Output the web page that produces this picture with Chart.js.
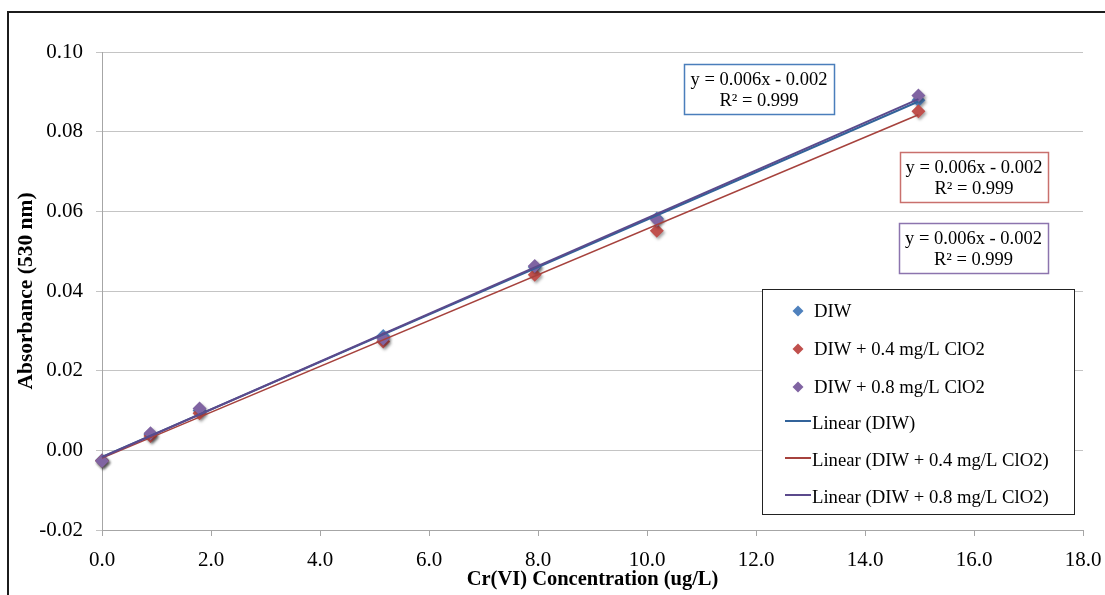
<!DOCTYPE html>
<html>
<head>
<meta charset="utf-8">
<script src="https://cdn.jsdelivr.net/npm/chart.js@4.4.1/dist/chart.umd.min.js"></script>
<style>
  html, body { margin: 0; padding: 0; background: #fff; overflow: hidden; }
  #frame { position: absolute; left: 7px; top: 11px; width: 1200px; height: 700px; border: 2px solid #1c1c1c; }
  #myChart { position: absolute; left: 0; top: 0; }
</style>
</head>
<body>
<div id="frame"></div>
<canvas id="myChart" width="1105" height="595"></canvas>
<script>
// Cr(VI) standards (ug/L) and measured absorbance at 530 nm
const concentration = [0, 0.89, 1.79, 5.16, 7.94, 10.18, 14.98];
const absDIW = [-0.0025, 0.0040, 0.0100, 0.0287, 0.0460, 0.0582, 0.0879];
const absClO2low = [-0.0026, 0.0036, 0.0093, 0.0273, 0.0441, 0.0551, 0.0851];
const absClO2high = [-0.0027, 0.0043, 0.0105, 0.0281, 0.0463, 0.0579, 0.0891];

const seriesNames = ['DIW', 'DIW + 0.4 mg/L ClO2', 'DIW + 0.8 mg/L ClO2'];
const seriesValues = [absDIW, absClO2low, absClO2high];

// trendline labels as reported
const equationLabels = ['y = 0.006x - 0.002', 'y = 0.006x - 0.002', 'y = 0.006x - 0.002'];
const r2Labels = ['R\u00B2 = 0.999', 'R\u00B2 = 0.999', 'R\u00B2 = 0.999'];

const xMin = 0, xMax = 18, xStep = 2;
const yMin = -0.02, yMax = 0.10, yStep = 0.02;

const markerColors = ['#4F81BD', '#C0504D', '#8064A2'];
const lineColors = ['#32639A', '#A6423D', '#5B4A8C'];
const boxColors = ['#4A7EBB', '#C9706D', '#8C74AE'];

const serif = '"Liberation Serif", "Times New Roman", serif';

// least squares line through each series
function linearFit(xs, ys) {
    const n = xs.length;
    const mx = xs.reduce((a, b) => a + b, 0) / n;
    const my = ys.reduce((a, b) => a + b, 0) / n;
    let sxy = 0, sxx = 0;
    for (let i = 0; i < n; i++) {
        sxy += (xs[i] - mx) * (ys[i] - my);
        sxx += (xs[i] - mx) ** 2;
    }
    const slope = sxy / sxx;
    return { slope, intercept: my - slope * mx };
}

const fits = seriesValues.map(ys => linearFit(concentration, ys));

const datasets = [];
seriesValues.forEach((ys, i) => {
    datasets.push({
        label: seriesNames[i],
        data: concentration.map((x, j) => ({ x: x, y: ys[j] })),
        showLine: false,
        pointStyle: 'rectRot',
        pointRadius: 7,
        pointBorderWidth: 0,
        backgroundColor: markerColors[i],
        borderColor: markerColors[i],
        order: 6 - i,
        clip: false
    });
});
fits.forEach((f, i) => {
    const x0 = concentration[0], x1 = concentration[concentration.length - 1];
    datasets.push({
        label: 'Linear (' + seriesNames[i] + ')',
        data: [{ x: x0, y: f.intercept + f.slope * x0 }, { x: x1, y: f.intercept + f.slope * x1 }],
        showLine: true,
        pointRadius: 0,
        borderColor: lineColors[i],
        borderWidth: i === 1 ? 1.6 : 2,
        order: 3 - i,
        clip: false
    });
});

// soft drop shadow under the markers
const markerShadow = {
    id: 'markerShadow',
    beforeDatasetDraw(chart, args) {
        if (args.index > 2) return;
        const ctx = chart.ctx;
        ctx.save();
        ctx.shadowColor = 'rgba(0,0,0,0.35)';
        ctx.shadowBlur = 3;
        ctx.shadowOffsetX = 1.5;
        ctx.shadowOffsetY = 2;
    },
    afterDatasetDraw(chart, args) {
        if (args.index > 2) return;
        chart.ctx.restore();
    }
};

// legend box and trendline equation labels
const overlays = {
    id: 'overlays',
    afterDraw(chart) {
        const ctx = chart.ctx;
        ctx.save();

        const boxes = [
            { x: 684, y: 64, w: 150, h: 50 },
            { x: 900, y: 152, w: 148, h: 50 },
            { x: 899, y: 223, w: 149, h: 50 }
        ];
        ctx.font = '18.5px ' + serif;
        ctx.textAlign = 'center';
        ctx.textBaseline = 'middle';
        boxes.forEach((b, i) => {
            ctx.fillStyle = '#fff';
            ctx.fillRect(b.x, b.y, b.w, b.h);
            ctx.strokeStyle = boxColors[i];
            ctx.lineWidth = 1.5;
            ctx.strokeRect(b.x + 0.5, b.y + 0.5, b.w, b.h);
            ctx.fillStyle = '#000';
            ctx.fillText(equationLabels[i], b.x + b.w / 2, b.y + 16);
            ctx.fillText(r2Labels[i], b.x + b.w / 2, b.y + 37);
        });

        // legend
        const lx = 762, ly = 289, lw = 312, lh = 225;
        ctx.fillStyle = '#fff';
        ctx.fillRect(lx, ly, lw, lh);
        ctx.strokeStyle = '#222';
        ctx.lineWidth = 1;
        ctx.strokeRect(lx + 0.5, ly + 0.5, lw, lh);

        ctx.font = '18.7px ' + serif;
        ctx.textAlign = 'left';
        const rows = [311, 349, 387, 424, 461, 498];
        for (let i = 0; i < 3; i++) {
            const y = rows[i];
            ctx.fillStyle = markerColors[i];
            ctx.beginPath();
            ctx.moveTo(798, y - 5.5);
            ctx.lineTo(803.5, y);
            ctx.lineTo(798, y + 5.5);
            ctx.lineTo(792.5, y);
            ctx.closePath();
            ctx.fill();
            ctx.fillStyle = '#000';
            ctx.fillText(seriesNames[i], 814, y + 1);
        }
        for (let i = 0; i < 3; i++) {
            const y = rows[i + 3];
            ctx.strokeStyle = lineColors[i];
            ctx.lineWidth = 2;
            ctx.beginPath();
            ctx.moveTo(785, y - 3);
            ctx.lineTo(811, y - 3);
            ctx.stroke();
            ctx.fillStyle = '#000';
            ctx.fillText('Linear (' + seriesNames[i] + ')', 812, y);
        }
        ctx.restore();
    }
};

const ctx = document.getElementById('myChart').getContext('2d');
const myChart = new Chart(ctx, {
    type: 'scatter',
    data: { datasets: datasets },
    plugins: [markerShadow, overlays],
    options: {
        responsive: false,
        animation: false,
        layout: { padding: { top: 52, right: 22, left: 0, bottom: 0 } },
        plugins: { legend: { display: false }, tooltip: { enabled: false } },
        scales: {
            x: {
                type: 'linear',
                min: xMin,
                max: xMax,
                ticks: {
                    stepSize: xStep,
                    padding: 12,
                    color: '#000',
                    font: { family: serif, size: 21 },
                    callback: v => v.toFixed(1)
                },
                grid: { drawOnChartArea: false, drawTicks: true, tickLength: 6, color: '#A6A6A6' },
                border: { color: '#A6A6A6' },
                title: {
                    display: true,
                    text: 'Cr(VI) Concentration (ug/L)',
                    color: '#000',
                    font: { family: serif, size: 20.5, weight: 'bold' },
                    padding: { top: 0, bottom: 3 }
                },
                afterFit(scale) {
                    scale.height = 65;
                    scale.paddingLeft = 0;
                    scale.paddingRight = 0;
                }
            },
            y: {
                type: 'linear',
                min: yMin,
                max: yMax,
                ticks: {
                    stepSize: yStep,
                    padding: 13,
                    color: '#000',
                    font: { family: serif, size: 21 },
                    callback: v => v.toFixed(2)
                },
                grid: { color: '#C4C4C4', tickLength: 6 },
                border: { color: '#A6A6A6' },
                title: {
                    display: true,
                    text: 'Absorbance (530 nm)',
                    color: '#000',
                    font: { family: serif, size: 21.5, weight: 'bold' },
                    padding: { top: 14, bottom: 0 }
                },
                afterFit(scale) {
                    scale.width = 102;
                    scale.paddingTop = 0;
                    scale.paddingBottom = 0;
                }
            }
        }
    }
});
</script>
</body>
</html>
